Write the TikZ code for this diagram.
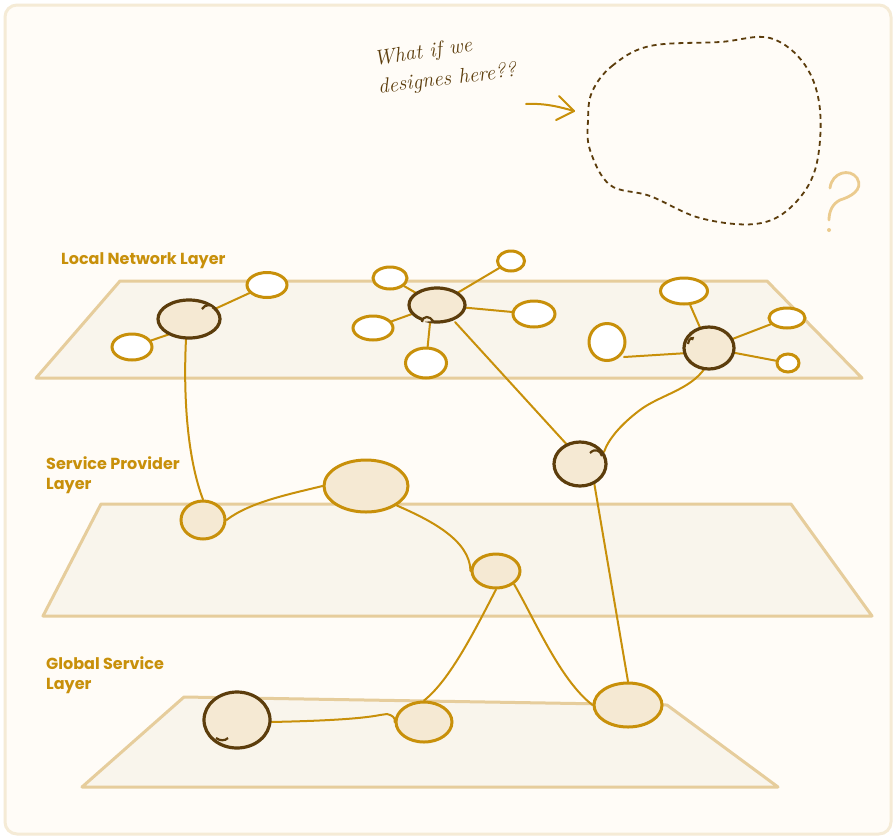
\documentclass[tikz,border=0pt]{standalone}
\usepackage{fontspec}
\newfontfamily\labelfont{Poppins}
\usetikzlibrary{arrows.meta,shapes.geometric}
\definecolor{gold}{HTML}{C8900A}
\definecolor{brownd}{HTML}{5C3D0C}
\definecolor{nfill}{HTML}{F5E9D3}
\definecolor{pfill}{HTML}{F9F5EC}
\definecolor{pline}{HTML}{E6CD9C}
\definecolor{frame}{HTML}{F5EBD6}
\definecolor{bg}{HTML}{FFFCF7}
\definecolor{qmark}{HTML}{EBCB8E}
\tikzset{
  plane/.style={draw=pline,fill=pfill,line width=3pt,line join=round},
  leaf/.style={draw=gold,fill=white,line width=3pt,ellipse},
  mid/.style={draw=gold,fill=nfill,line width=3pt},
  hub/.style={draw=brownd,fill=nfill,line width=3.2pt},
  link/.style={draw=gold,line width=2pt,line cap=round},
  lay/.style={text=gold,font=\labelfont\bfseries\fontsize{16}{20}\selectfont,align=left,anchor=north west,inner sep=0pt},
  hand/.style={text=brownd,font=\itshape\fontsize{21}{24}\selectfont,inner sep=0pt}
}
\begin{document}
\begin{tikzpicture}[x=1pt,y=-1pt]
\useasboundingbox (0,0) rectangle (896,839);
\fill[white] (0,0) rectangle (896,839);
\draw[frame,fill=bg,line width=3pt,rounded corners=12pt] (5,5) rectangle (891,834);

% planes
\draw[plane] (120,281) -- (767,281) -- (862,378) -- (36,378) -- cycle;
\draw[plane] (101,504) -- (791,504) -- (872,616) -- (43,616) -- cycle;
\draw[plane] (184,697) -- (667,705) -- (778,787) -- (82,787) -- cycle;

% labels
\node[lay] (lab1) at (61,252) {Local Network Layer};
\node[lay] (lab2) at (46,456) {Service Provider\\Layer};
\node[lay] (lab3) at (46,656) {Global Service\\Layer};

% nodes local
\coordinate (A) at (189,319);
\coordinate (B) at (437,305);
\coordinate (C) at (709,348);
\coordinate (D) at (580,464);
\node[leaf,minimum width=40pt,minimum height=25pt] (l1) at (267,285) {};
\node[leaf,minimum width=40pt,minimum height=26pt] (l2) at (132,347) {};
\node[leaf,minimum width=34pt,minimum height=22pt] (b1) at (390,278) {};
\node[leaf,minimum width=27pt,minimum height=20pt] (b2) at (511,261) {};
\node[leaf,minimum width=40pt,minimum height=24pt] (b3) at (373,328) {};
\node[leaf,minimum width=42pt,minimum height=26pt] (b4) at (534,314) {};
\node[leaf,minimum width=41pt,minimum height=30pt] (b5) at (426,363) {};
\node[leaf,minimum width=47pt,minimum height=26pt] (c1) at (684,291) {};
\node[leaf,minimum width=36pt,minimum height=37pt] (c2) at (607,342) {};
\node[leaf,minimum width=36pt,minimum height=20pt] (c3) at (787,318) {};
\node[leaf,minimum width=22pt,minimum height=18pt] (c4) at (788,363) {};

% mid nodes
\node[mid,ellipse,minimum width=44pt,minimum height=38pt] (E) at (203,520) {};
\node[mid,ellipse,minimum width=84pt,minimum height=52pt] (F) at (366,486) {};
\node[mid,ellipse,minimum width=48pt,minimum height=34pt] (G) at (496,571) {};
\node[mid,ellipse,minimum width=56pt,minimum height=40pt] (I) at (424,722) {};
\node[mid,ellipse,minimum width=68pt,minimum height=44pt] (J) at (628,705) {};

% links
\draw[link] (206,313) -- (l1);
\draw[link] (170,334) -- (l2);
\draw[link] (186,339) .. controls (183,400) and (188,460) .. (E.north);
\draw[link] (B) -- (b1);
\draw[link] (B) -- (b2);
\draw[link] (B) -- (b3);
\draw[link] (B) -- (b4);
\draw[link] (430,323) -- (b5);
\draw[link] (455,322) -- (570,448);
\draw[link] (C) -- (c1);
\draw[link] (688,353) -- (624,357);
\draw[link] (C) -- (c3);
\draw[link] (C) -- (c4);
\draw[link] (705,368) .. controls (690,390) and (660,395) .. (640,410) .. controls (620,425) and (608,440) .. (604,452);
\draw[link] (594,482) -- (J.north);
\draw[link] (E.east) .. controls (250,502) and (290,494) .. (F.west);
\draw[link] (F.south east) .. controls (430,520) and (470,540) .. (G.west);
\draw[link] (G.south) .. controls (475,630) and (450,680) .. (I.north);
\draw[link] (G.south east) .. controls (535,620) and (560,680) .. (J.west);
\draw[link] (270,722) .. controls (320,721) and (360,719) .. (380,715) -- (387,714) .. controls (392,715) and (396,718) .. (I.west);

% hubs (drawn after links)
\draw[hub] (A) ellipse[x radius=31pt,y radius=19pt];
\draw[hub,line width=2.2pt] (202,309) .. controls (205,304) and (212,304) .. (214,308);
\draw[hub] (B) ellipse[x radius=28pt,y radius=17pt];
\draw[hub,line width=2.2pt] (422,322) .. controls (423,315) and (430,316) .. (433,321);
\draw[hub] (C) ellipse[x radius=25pt,y radius=21pt];
\draw[hub,line width=2.2pt] (692,340) .. controls (695,336) and (688,338) .. (688,344);
\draw[hub] (D) ellipse[x radius=26pt,y radius=22pt];
\draw[hub,line width=2.2pt] (590,453) .. controls (595,448) and (600,450) .. (602,456);
\coordinate (H) at (237,720);
\draw[hub] (H) ellipse[x radius=33pt,y radius=28pt];
\draw[hub,line width=2.2pt] (216,738) .. controls (220,741) and (225,741) .. (228,738);

% annotation
\node[hand,rotate=8,anchor=west] (t1) at (374,60) {What if we};
\node[hand,rotate=7,anchor=west] (t2) at (378,88) {designes here??};
\coordinate (a1) at (526,104);
\coordinate (a2) at (574,111);
\draw[gold,line width=2pt,line cap=round] (a1) .. controls (545,103) and (560,107) .. (a2);
\draw[gold,line width=2pt,line cap=round,line join=round] (559,96) -- (574,111) -- (556,120);

\draw[brownd,line width=1.8pt,dash pattern=on 5pt off 4pt] plot[smooth cycle,tension=0.6] coordinates {(592,92) (612,66) (650,46) (720,42) (770,38) (805,65) (820,110) (815,170) (790,208) (755,224) (700,218) (650,196) (610,185) (590,150) (588,120)};

% question mark
\draw[qmark,line width=2.8pt,line cap=round] (830,188) .. controls (832,172) and (850,168) .. (857,178) .. controls (864,190) and (850,197) .. (840,200) .. controls (832,204) and (829,212) .. (829,220);
\fill[qmark] (829,230) circle (2pt);
\end{tikzpicture}
\end{document}
